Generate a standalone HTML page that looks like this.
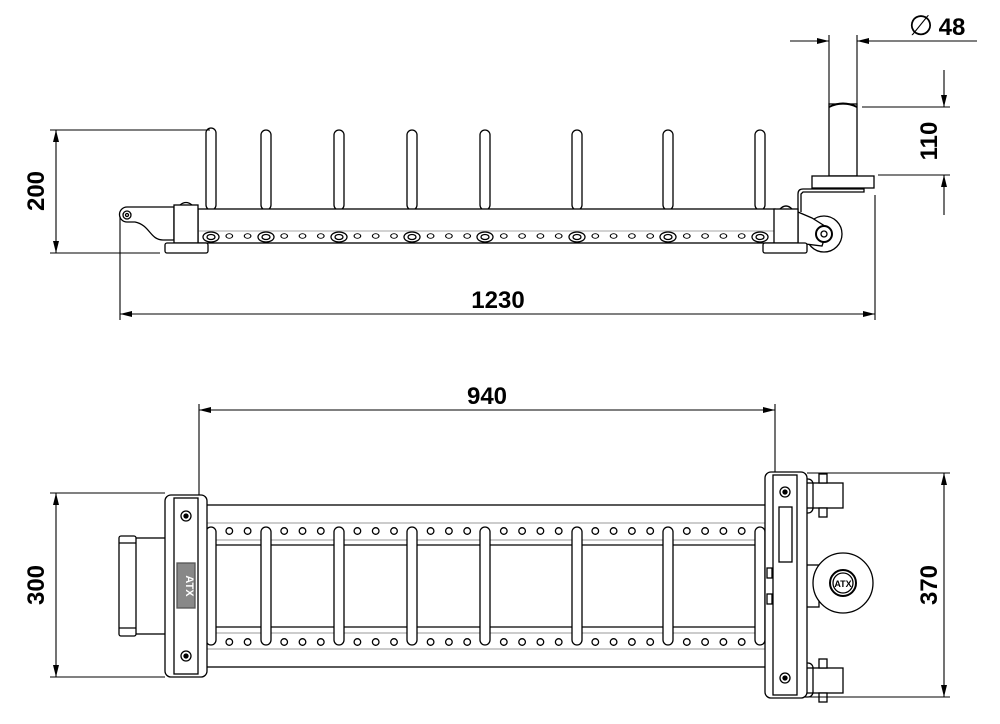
<!DOCTYPE html>
<html><head><meta charset="utf-8"><style>
html,body{margin:0;padding:0;background:#fff;width:1000px;height:724px;overflow:hidden}
svg{display:block}
text{font-family:"Liberation Sans",Arial,sans-serif;font-weight:bold;fill:#000}
</style></head><body>
<svg width="1000" height="724" viewBox="0 0 1000 724" xmlns="http://www.w3.org/2000/svg">
<defs>
<marker id="a" viewBox="0 0 12 6" refX="12" refY="3" markerWidth="12" markerHeight="6" orient="auto-start-reverse" markerUnits="userSpaceOnUse"><path d="M0,0 L12,3 L0,6 Z" fill="#000"/></marker>
<g id="hr">
<circle cx="229.3" cy="0" r="3.3"/><circle cx="247.6" cy="0" r="3.3"/><circle cx="284.2" cy="0" r="3.3"/><circle cx="302.5" cy="0" r="3.3"/><circle cx="320.8" cy="0" r="3.3"/><circle cx="357.4" cy="0" r="3.3"/><circle cx="375.7" cy="0" r="3.3"/><circle cx="394" cy="0" r="3.3"/><circle cx="430.6" cy="0" r="3.3"/><circle cx="448.9" cy="0" r="3.3"/><circle cx="467.2" cy="0" r="3.3"/><circle cx="503.8" cy="0" r="3.3"/><circle cx="522.1" cy="0" r="3.3"/><circle cx="540.4" cy="0" r="3.3"/><circle cx="558.7" cy="0" r="3.3"/><circle cx="595.3" cy="0" r="3.3"/><circle cx="613.6" cy="0" r="3.3"/><circle cx="631.9" cy="0" r="3.3"/><circle cx="650.2" cy="0" r="3.3"/><circle cx="686.8" cy="0" r="3.3"/><circle cx="705.1" cy="0" r="3.3"/><circle cx="723.4" cy="0" r="3.3"/><circle cx="741.7" cy="0" r="3.3"/>
</g>
</defs>
<g fill="none" stroke="#000" stroke-width="1.3">
<g fill="#fff">
<rect x="206" y="128" width="10" height="82" rx="5"/>
<rect x="261" y="130" width="10" height="80" rx="5"/>
<rect x="334" y="130" width="10" height="80" rx="5"/>
<rect x="407" y="130" width="10" height="80" rx="5"/>
<rect x="480" y="130" width="10" height="80" rx="5"/>
<rect x="572" y="130" width="10" height="80" rx="5"/>
<rect x="663" y="130" width="10" height="80" rx="5"/>
<rect x="755" y="130" width="10" height="80" rx="5"/>
</g>
<rect x="198" y="209" width="577" height="34" fill="#fff"/>
<line x1="198" y1="231" x2="775" y2="231" stroke="#888" stroke-width="0.8"/>
<g transform="translate(0,236)" fill="#fff" stroke-width="1.2">
<use href="#hr" transform="scale(1,0.7)"/>
</g>
<g fill="#fff" stroke-width="1.3">
<ellipse cx="211" cy="237" rx="8" ry="5"/><ellipse cx="211" cy="237" rx="4" ry="2.5"/>
<ellipse cx="266" cy="237" rx="8" ry="5"/><ellipse cx="266" cy="237" rx="4" ry="2.5"/>
<ellipse cx="339" cy="237" rx="8" ry="5"/><ellipse cx="339" cy="237" rx="4" ry="2.5"/>
<ellipse cx="412" cy="237" rx="8" ry="5"/><ellipse cx="412" cy="237" rx="4" ry="2.5"/>
<ellipse cx="485" cy="237" rx="8" ry="5"/><ellipse cx="485" cy="237" rx="4" ry="2.5"/>
<ellipse cx="577" cy="237" rx="8" ry="5"/><ellipse cx="577" cy="237" rx="4" ry="2.5"/>
<ellipse cx="668" cy="237" rx="8" ry="5"/><ellipse cx="668" cy="237" rx="4" ry="2.5"/>
<ellipse cx="760" cy="237" rx="8" ry="5"/><ellipse cx="760" cy="237" rx="4" ry="2.5"/>
</g>
<path d="M127,207 L174,207 L174,240 L163,240 C150,240 150,225 135,222 L127,222 A7.5,7.5 0 0 1 127,207 Z" fill="#fff"/>
<circle cx="127" cy="215" r="4"/><circle cx="127" cy="215" r="1.5"/>
<rect x="174" y="205" width="24" height="38" fill="#fff"/>
<path d="M180,205 Q186,200 192,205"/>
<rect x="165" y="243" width="43" height="10" rx="2" fill="#fff"/>
<rect x="829" y="104" width="28" height="72" fill="#fff"/>
<path d="M829,107 Q843,100 857,107" stroke-width="2"/>
<rect x="812" y="176" width="62" height="12" fill="#fff"/>
<path d="M798,212 L798,194 Q798,189 803,189 L864,189 L864,192 L803,192 L801,194 L801,212" fill="#fff"/>
<circle cx="824" cy="234" r="18" fill="#fff"/>
<path d="M798,212 L812,218 L828,228 L822,246 L798,243 Z" fill="#fff"/>
<circle cx="824" cy="234" r="8" fill="#fff" stroke-width="2"/><circle cx="824" cy="234" r="3"/>
<rect x="774" y="209" width="24" height="34" fill="#fff"/>
<path d="M780,209 Q786,203 792,209"/>
<rect x="763" y="243" width="44" height="10" rx="2" fill="#fff"/>

<rect x="198" y="505" width="570" height="162" fill="#fff"/>
<line x1="198" y1="545" x2="768" y2="545"/>
<line x1="198" y1="627" x2="768" y2="627"/>
<g stroke="#999" stroke-width="1"><line x1="198" y1="523" x2="768" y2="523"/><line x1="198" y1="540" x2="768" y2="540"/><line x1="198" y1="633" x2="768" y2="633"/><line x1="198" y1="649" x2="768" y2="649"/></g>
<use href="#hr" transform="translate(0,531)" fill="#fff"/>
<use href="#hr" transform="translate(0,642)" fill="#fff"/>
<g fill="#fff">
<rect x="206" y="527" width="10" height="118" rx="5"/>
<rect x="261" y="527" width="10" height="118" rx="5"/>
<rect x="334" y="527" width="10" height="118" rx="5"/>
<rect x="407" y="527" width="10" height="118" rx="5"/>
<rect x="480" y="527" width="10" height="118" rx="5"/>
<rect x="572" y="527" width="10" height="118" rx="5"/>
<rect x="663" y="527" width="10" height="118" rx="5"/>
<rect x="755" y="527" width="10" height="118" rx="5"/>
</g>
<rect x="135" y="538" width="40" height="96" fill="#fff"/>
<rect x="119" y="536" width="17" height="100" rx="2" fill="#fff"/>
<line x1="119" y1="543" x2="136" y2="543"/><line x1="119" y1="628" x2="136" y2="628"/>
<rect x="165" y="495" width="42" height="182" rx="6" fill="#fff"/>
<rect x="174" y="498" width="24" height="176" fill="#fff"/>
<circle cx="186" cy="516" r="5"/><circle cx="186" cy="516" r="2" fill="#000"/>
<circle cx="186" cy="656" r="5"/><circle cx="186" cy="656" r="2" fill="#000"/>
<rect x="177" y="563" width="18" height="45" fill="#888" stroke="#555"/>
<rect x="797" y="565" width="22" height="42" fill="#fff"/>
<circle cx="843" cy="583" r="30" fill="#fff"/>
<circle cx="843" cy="583" r="13" stroke-width="2"/>
<circle cx="843" cy="583" r="10"/>
<rect x="798" y="483" width="45" height="25" fill="#fff"/>
<rect x="801" y="479" width="12" height="34" rx="5"/>
<rect x="819" y="474" width="8" height="9" fill="#fff"/><rect x="819" y="508" width="8" height="9" fill="#fff"/>
<rect x="798" y="668" width="45" height="25" fill="#fff"/>
<rect x="801" y="663" width="12" height="34" rx="5"/>
<rect x="819" y="659" width="8" height="9" fill="#fff"/><rect x="819" y="693" width="8" height="9" fill="#fff"/>
<rect x="765" y="472" width="42" height="226" rx="6" fill="#fff"/>
<rect x="773" y="475" width="24" height="220" fill="#fff"/>
<circle cx="785" cy="492" r="5"/><circle cx="785" cy="492" r="2" fill="#000"/>
<circle cx="785" cy="678" r="5"/><circle cx="785" cy="678" r="2" fill="#000"/>
<rect x="779" y="507" width="13" height="55"/>
<rect x="767" y="568" width="5" height="10"/><rect x="767" y="594" width="5" height="10"/>

<g stroke-width="1.1">
<line x1="50" y1="130" x2="210" y2="130"/><line x1="50" y1="253" x2="160" y2="253"/>
<line x1="56" y1="130" x2="56" y2="253" marker-start="url(#a)" marker-end="url(#a)"/>
<line x1="120" y1="216" x2="120" y2="320"/><line x1="875" y1="195" x2="875" y2="320"/>
<line x1="120" y1="314" x2="875" y2="314" marker-start="url(#a)" marker-end="url(#a)"/>
<line x1="829" y1="35" x2="829" y2="104"/><line x1="857" y1="35" x2="857" y2="104"/>
<line x1="790" y1="41" x2="829" y2="41" marker-end="url(#a)"/>
<line x1="977" y1="41" x2="857" y2="41" marker-end="url(#a)"/>
<line x1="862" y1="107" x2="950" y2="107"/><line x1="878" y1="175" x2="950" y2="175"/>
<line x1="944" y1="70" x2="944" y2="107" marker-end="url(#a)"/>
<line x1="944" y1="215" x2="944" y2="175" marker-end="url(#a)"/>
<line x1="199" y1="404" x2="199" y2="495"/><line x1="775" y1="404" x2="775" y2="472"/>
<line x1="199" y1="410" x2="775" y2="410" marker-start="url(#a)" marker-end="url(#a)"/>
<line x1="50" y1="493" x2="165" y2="493"/><line x1="50" y1="677" x2="165" y2="677"/>
<line x1="56" y1="493" x2="56" y2="677" marker-start="url(#a)" marker-end="url(#a)"/>
<line x1="807" y1="473" x2="950" y2="473"/><line x1="807" y1="697" x2="950" y2="697"/>
<line x1="944" y1="473" x2="944" y2="697" marker-start="url(#a)" marker-end="url(#a)"/>
</g>
</g>
<text x="498" y="308" font-size="24" text-anchor="middle">1230</text>
<text x="487" y="404" font-size="24" text-anchor="middle">940</text>
<text x="952" y="35" font-size="24" text-anchor="middle">48</text>
<text x="921" y="35" font-size="28" text-anchor="middle" style="font-weight:normal">∅</text>
<text transform="translate(44,191) rotate(-90)" font-size="24" text-anchor="middle">200</text>
<text transform="translate(44,585) rotate(-90)" font-size="24" text-anchor="middle">300</text>
<text transform="translate(937,141) rotate(-90)" font-size="24" text-anchor="middle">110</text>
<text transform="translate(937,585) rotate(-90)" font-size="24" text-anchor="middle">370</text>
<text transform="translate(186,586) rotate(90)" font-size="11" text-anchor="middle" style="fill:#fff">ATX</text>
<text x="843" y="587" font-size="9" text-anchor="middle">ATX</text>
</svg>
</body></html>
